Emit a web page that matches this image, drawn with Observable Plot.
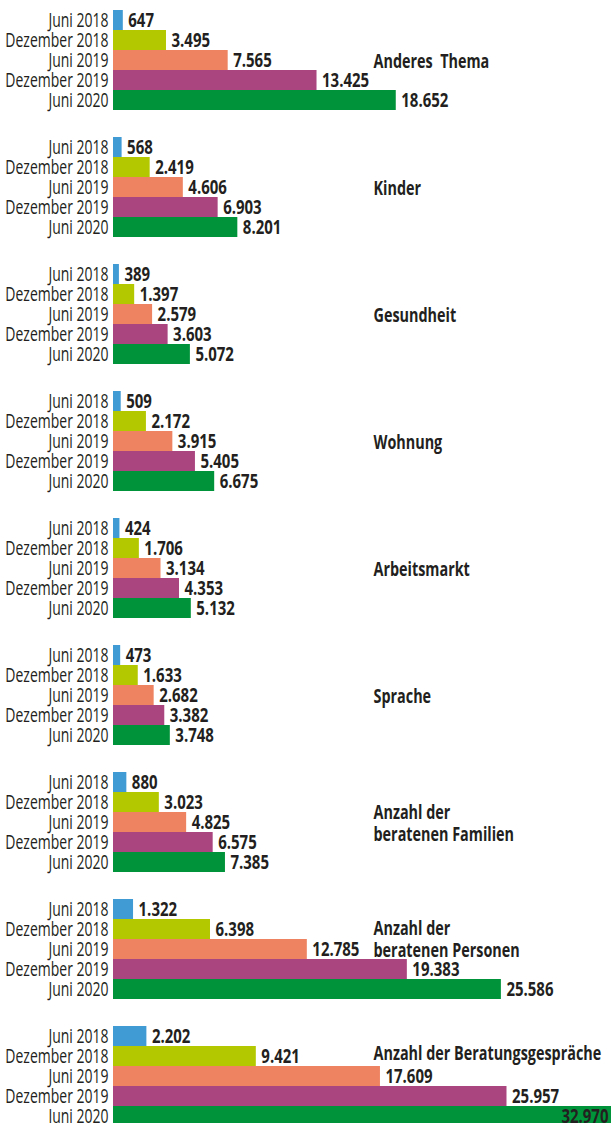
<!DOCTYPE html>
<html><head><meta charset="utf-8">
<script src="https://cdn.jsdelivr.net/npm/d3@7"></script>
<script src="https://cdn.jsdelivr.net/npm/@observablehq/plot@0.6"></script>
<style>
html,body{margin:0;padding:0;background:#fff;overflow:hidden}
#chart svg{display:block}
</style></head><body><div id="chart"></div>
<script>
const periods = ["Juni 2018", "Dezember 2018", "Juni 2019", "Dezember 2019", "Juni 2020"];
const groups = ["Anderes Thema", "Kinder", "Gesundheit", "Wohnung", "Arbeitsmarkt", "Sprache",
  "Anzahl der beratenen Familien", "Anzahl der beratenen Personen", "Anzahl der Beratungsgespräche"];
const groupTitles = ["Anderes  Thema", "Kinder", "Gesundheit", "Wohnung", "Arbeitsmarkt", "Sprache",
  "Anzahl der\nberatenen Familien", "Anzahl der\nberatenen Personen", "Anzahl der Beratungsgespräche"];

const anderesThema = [647, 3495, 7565, 13425, 18652];
const kinder = [568, 2419, 4606, 6903, 8201];
const gesundheit = [389, 1397, 2579, 3603, 5072];
const wohnung = [509, 2172, 3915, 5405, 6675];
const arbeitsmarkt = [424, 1706, 3134, 4353, 5132];
const sprache = [473, 1633, 2682, 3382, 3748];
const familien = [880, 3023, 4825, 6575, 7385];
const personen = [1322, 6398, 12785, 19383, 25586];
const gespraeche = [2202, 9421, 17609, 25957, 32970];
const seriesValues = [anderesThema, kinder, gesundheit, wohnung, arbeitsmarkt, sprache, familien, personen, gespraeche];

const periodColors = ["#409ad3", "#b4c800", "#ee8361", "#aa4580", "#009339"];
const xMax = 32850;

const fmt = d3.formatLocale({decimal: ",", thousands: ".", grouping: [3], currency: ["", " €"]}).format(",d");

const rows = groups.flatMap((g, gi) => periods.map((p, pi) => ({group: g, period: p, value: seriesValues[gi][pi]})));
const titles = groups.map((g, i) => ({group: g, label: groupTitles[i]}));
const titleShift = {"Anzahl der beratenen Personen": -11, "Anzahl der Beratungsgespräche": -24};

const font = `"Open Sans", "Liberation Sans", sans-serif`;
const ink = "#231f20";
const fits = d => d.value <= xMax * 0.92;

const titleMarks = [0, -11, -24].map(shift =>
  Plot.text(titles.filter(t => (titleShift[t.group] || 0) === shift), {
    fy: "group", y: () => "Juni 2019", text: "label",
    frameAnchor: "left", dx: 260, dy: shift, textAnchor: "start",
    fontWeight: "bold", fill: ink, lineHeight: 1.1, fontSize: 20, ariaLabel: () => "title"
  }));

const chart = Plot.plot({
  width: 611, height: 1123,
  marginLeft: 113, marginRight: 0, marginTop: 0, marginBottom: 0,
  style: {fontFamily: font, fontSize: "20px", color: ink, background: "#fff", overflow: "hidden"},
  x: {domain: [0, xMax], axis: null},
  y: {domain: periods, padding: 0, axis: "left", tickSize: 0, tickPadding: 5, label: null},
  fy: {domain: groups, range: [10, 1126], paddingInner: 27 / 127, paddingOuter: 0, axis: null},
  color: {domain: periods, range: periodColors},
  marks: [
    Plot.barX(rows, {fy: "group", y: "period", x: "value", fill: "period", inset: 0}),
    Plot.text(rows.filter(fits), {fy: "group", y: "period", x: "value", text: d => fmt(d.value),
      textAnchor: "start", dx: 5, fontWeight: "bold", fill: ink, fontSize: 20, ariaLabel: () => "value"}),
    Plot.text(rows.filter(d => !fits(d)), {fy: "group", y: "period", text: d => fmt(d.value),
      frameAnchor: "right", textAnchor: "end", dx: -3, fontWeight: "bold", fill: ink, fontSize: 20, ariaLabel: () => "value"}),
    ...titleMarks
  ]
});
// condense the type horizontally around each text's anchor point
const roleOf = el => {
  for (let n = el; n && n !== chart; n = n.parentNode) {
    const a = n.getAttribute && n.getAttribute("aria-label");
    if (a === "value" || a === "title") return a;
  }
  return "tick";
};
chart.querySelectorAll("text").forEach(t => {
  const role = roleOf(t);
  const s = role === "value" ? 0.75 : role === "title" ? 0.72 : 0.70;
  const tr = t.getAttribute("transform") || "";
  const x0 = +(t.getAttribute("x") || 0);
  t.setAttribute("transform", `${tr} translate(${x0},0) scale(${s},1) translate(${-x0},0)`);
});
document.getElementById("chart").append(chart);
</script>
</body></html>
